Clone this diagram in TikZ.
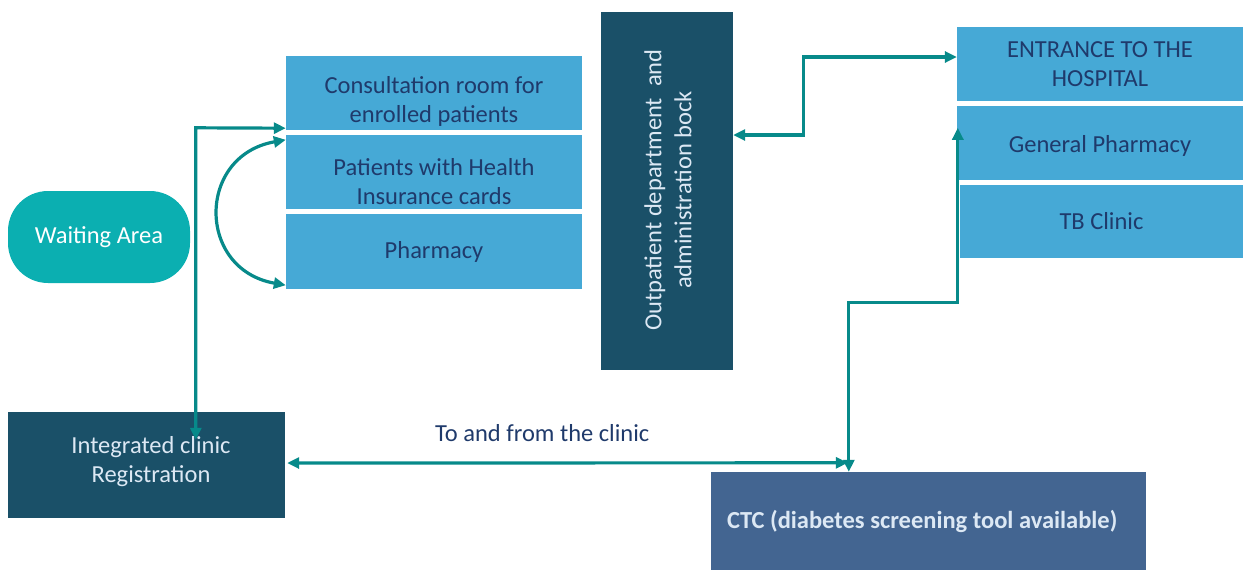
\documentclass[tikz,border=0pt]{standalone}
\usepackage{fontspec}
\setmainfont{Carlito}
\usetikzlibrary{positioning,arrows.meta}
\definecolor{mylightblue}{HTML}{46A9D6}
\definecolor{mynavy}{HTML}{1F3A6B}
\definecolor{mydark}{HTML}{1A5068}
\definecolor{myteal}{HTML}{0BAFB1}
\definecolor{myline}{HTML}{078A8A}
\definecolor{myctc}{HTML}{436591}
\definecolor{mypale}{HTML}{DCE8F4}

\begin{document}
\begin{tikzpicture}[x=1pt, y=-1pt,
        lightbox/.style={rectangle, fill=mylightblue, text=mynavy, inner sep=0pt, align=center,
                         minimum width=296pt, minimum height=74pt, font=\fontsize{24.5}{29}\selectfont},
        darkbox/.style={rectangle, fill=mydark, text=mypale, inner sep=0pt, align=center,
                        font=\fontsize{24.5}{29}\selectfont},
        conn/.style={draw=myline, line width=3.2pt, >={Triangle[length=12pt,width=11pt]}}]
        \useasboundingbox (0,0) rectangle (1244,571);
        \node[rectangle, rounded corners=40pt, fill=myteal, text=white, minimum width=182pt, minimum height=92pt,
              font=\fontsize{24.5}{29}\selectfont] at (99,237) (WAIT) {Waiting Area};
        \node[lightbox] at (434,93) (CONS) {\rule{0pt}{34pt}Consultation room for\\enrolled patients};
        \node[lightbox] at (434,172) (INS) {\rule{0pt}{37pt}Patients with Health\\Insurance cards};
        \node[lightbox, minimum height=75pt] at (434,251.5) (PHA) {Pharmacy};
        \node[darkbox, minimum width=132pt, minimum height=358pt] at (667,191) (OPD) {};
        \node[darkbox, rotate=90, font=\fontsize{24.5}{30}\selectfont] at (668,190) (OPDtext) {Outpatient department\ \ and\\administration bock};
        \node[lightbox, minimum width=286pt] at (1100,64) (ENTR) {ENTRANCE TO THE\\HOSPITAL};
        \node[lightbox, minimum width=286pt] at (1100,143) (GPH) {\rule{0pt}{22pt}General Pharmacy};
        \node[lightbox, minimum width=283pt, minimum height=73pt] at (1101.5,221.5) (TB) {TB Clinic};
        \node[darkbox, minimum width=277pt, minimum height=106pt] at (146.5,465) (REG) {\hspace*{9pt}Integrated clinic\\\hspace*{9pt}Registration\rule[-11pt]{0pt}{0pt}};
        \node[rectangle, fill=myctc, text=mypale, inner sep=0pt, minimum width=435pt, minimum height=98pt,
              font=\bfseries\fontsize{24.5}{29}\selectfont] at (928.5,521) (CTC) {\makebox[403pt][l]{CTC (diabetes screening tool available)}};
        % straight lines
        \draw[conn,<->] ([xshift=188pt,yshift=-28pt]REG.north west) -- ++(0,-312) -- ([yshift=2pt]CONS.south west);
        \draw[conn,<->] ([yshift=56pt]OPD.east) -- ++(70,0) |- ([yshift=7pt]ENTR.west);
        \draw[conn,<->] ([xshift=1pt,yshift=-22pt]GPH.north west) -- ++(0,175) -| ([xshift=138pt]CTC.north west);
        \draw[conn,<->] ([xshift=2pt,yshift=2pt]REG.east) -- ([xshift=137pt,yshift=9pt]CTC.north west)
              node[pos=0.455, above=16pt, text=mynavy, font=\fontsize{24.5}{29}\selectfont] (TOFRO) {To and from the clinic};
        % curved line
        \draw[conn,<->] ([yshift=-5pt]INS.north west) to[bend right=80, looseness=1.6] ([yshift=4pt]PHA.south west);
\end{tikzpicture}
\end{document}
